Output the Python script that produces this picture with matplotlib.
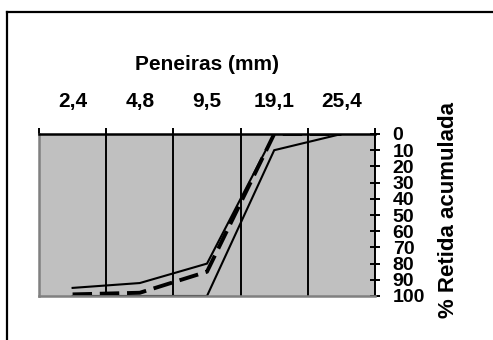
import matplotlib
matplotlib.use("Agg")
import matplotlib.pyplot as plt
from matplotlib.lines import Line2D
from matplotlib.ticker import FixedLocator
from matplotlib.transforms import Bbox

plt.rcParams['font.family'] = ['Liberation Sans', 'DejaVu Sans']
plt.rcParams['font.weight'] = 'bold'

# sieve openings and cumulative retained percentages
peneiras = ["2,4", "4,8", "9,5", "19,1", "25,4"]
limite_superior = [95, 92, 80, 0, 0]
amostra = [99, 98, 85, 0, 0]
limite_inferior = [100, 100, 100, 10, 0]
y_ticks = list(range(0, 101, 10))

W, H = 493, 340
fig = plt.figure(figsize=(W / 100, H / 100), dpi=100)
fig.patch.set_facecolor("white")


def fx(px):
    return px / W


def fy(py):
    return 1 - py / H


ax = fig.add_axes([fx(39), fy(296), fx(375) - fx(39), fy(134) - fy(296)])
ax.set_facecolor("#c0c0c0")

x = list(range(len(peneiras)))
ax.plot(x, limite_superior, color="black", lw=1.5, solid_joinstyle="miter")
ax.plot(x, limite_inferior, color="black", lw=1.5, solid_joinstyle="miter")
ax.plot(x, amostra, color="black", lw=2.8, dashes=(5, 2))

ax.set_xlim(-0.5, len(peneiras) - 0.5)
ax.set_ylim(100, 0)

# category labels on top, ticks/grid on category boundaries
ax.xaxis.tick_top()
ax.set_xticks(x)
ax.set_xticklabels(peneiras, fontsize=15, fontweight="bold")
ax.xaxis.set_minor_locator(FixedLocator([i - 0.5 for i in range(len(peneiras) + 1)]))
ax.tick_params(axis="x", which="major", length=0, pad=16.5)
ax.tick_params(axis="x", which="minor", length=4.5, width=1.4, direction="out", top=True, bottom=False)
ax.grid(True, axis="x", which="minor", color="black", lw=1.4)
ax.set_axisbelow(True)

ax.yaxis.tick_right()
ax.set_yticks(y_ticks)
ax.set_yticklabels([str(v) for v in y_ticks], fontsize=14, fontweight="bold")
ax.tick_params(axis="y", length=6.5, width=1.4, direction="inout", pad=9.5)

ax.spines["top"].set_color("black")
ax.spines["top"].set_linewidth(1.8)
ax.spines["right"].set_color("black")
ax.spines["right"].set_linewidth(1.4)
ax.spines["left"].set_color("#808080")
ax.spines["left"].set_linewidth(1.8)
ax.spines["bottom"].set_color("#808080")
ax.spines["bottom"].set_linewidth(1.8)

fig.text(fx(207), fy(65), "Peneiras (mm)", ha="center", va="center",
         fontsize=15, fontweight="bold")
ylab = fig.text(fx(448), fy(318), "% Retida acumulada", rotation=90, ha="center",
                va="bottom", fontsize=16, fontweight="bold")
# the axis title box is narrower than the text, so its end is cut off
ylab.set_clip_box(Bbox.from_extents(0, 0, W, H - 101))
ylab.set_clip_on(True)

# outer frame
fig.add_artist(Line2D([fx(7), fx(7)], [fy(12), 0], color="black", lw=1.6,
                      transform=fig.transFigure))
fig.add_artist(Line2D([fx(7), 1], [fy(12), fy(12)], color="black", lw=1.6,
                      transform=fig.transFigure))

fig.savefig("out.png", dpi=100)
